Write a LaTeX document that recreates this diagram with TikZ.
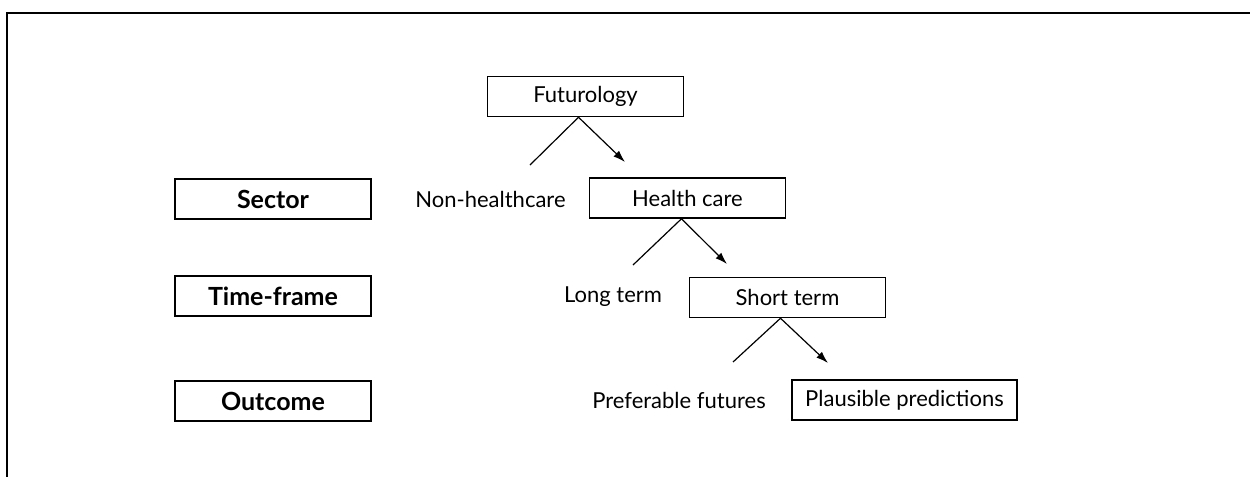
\documentclass[tikz,border=0pt]{standalone}
\usepackage{fontspec}
\setmainfont{Lato}
\usetikzlibrary{arrows.meta}
\begin{document}
\begin{tikzpicture}[x=0.5pt,y=-0.5pt,
  font=\fontsize{11}{13}\selectfont,
  box/.style={draw,line width=0.75pt,minimum width=98pt,minimum height=20pt,inner sep=0pt},
  levelbox/.style={box,font=\fontsize{12.5}{14}\selectfont\bfseries},
  plain/.style={inner sep=0pt},
  branch/.style={line width=0.6pt},
  pick/.style={line width=0.6pt,-{Latex[length=6pt,width=4pt]}}]
  \useasboundingbox (0,0) rectangle (1250,477);
  \draw[line width=1.2pt] (7,477)--(7,13)--(1250,13); % frame

  % levels
  \node[levelbox] (sector) at (273,199) {Sector};
  \node[levelbox] (timeframe) at (273,296) {Time-frame};
  \node[levelbox] (outcome) at (273,401) {Outcome};

  % tree
  \node[box] (fut) at (585.5,96.5) {Futurology};
  \node[plain] (nonhc) at (490.5,199) {Non-healthcare};
  \node[box] (hc) at (687.5,198) {Health care};
  \node[plain] (long) at (613,297) {Long term};
  \node[box] (short) at (787.5,297.5) {Short term};
  \node[plain] (pref) at (679,400) {Preferable futures};
  \node[box,minimum width=112.5pt] (plaus) at (904.5,400) {Plausible predictions};

  \coordinate (futL) at (530,165);
  \coordinate (futR) at (625,162);
  \coordinate (hcL) at (633,265);
  \coordinate (hcR) at (727,264);
  \coordinate (shortL) at (733,362);
  \coordinate (shortR) at (828,363);

  \draw[branch] ([xshift=-3.5pt]fut.south)--(futL);
  \draw[pick] ([xshift=-3.5pt]fut.south)--(futR);
  \draw[branch] ([xshift=-3pt]hc.south)--(hcL);
  \draw[pick] ([xshift=-3pt]hc.south)--(hcR);
  \draw[branch] ([xshift=-3.5pt]short.south)--(shortL);
  \draw[pick] ([xshift=-3.5pt]short.south)--(shortR);
\end{tikzpicture}
\end{document}
